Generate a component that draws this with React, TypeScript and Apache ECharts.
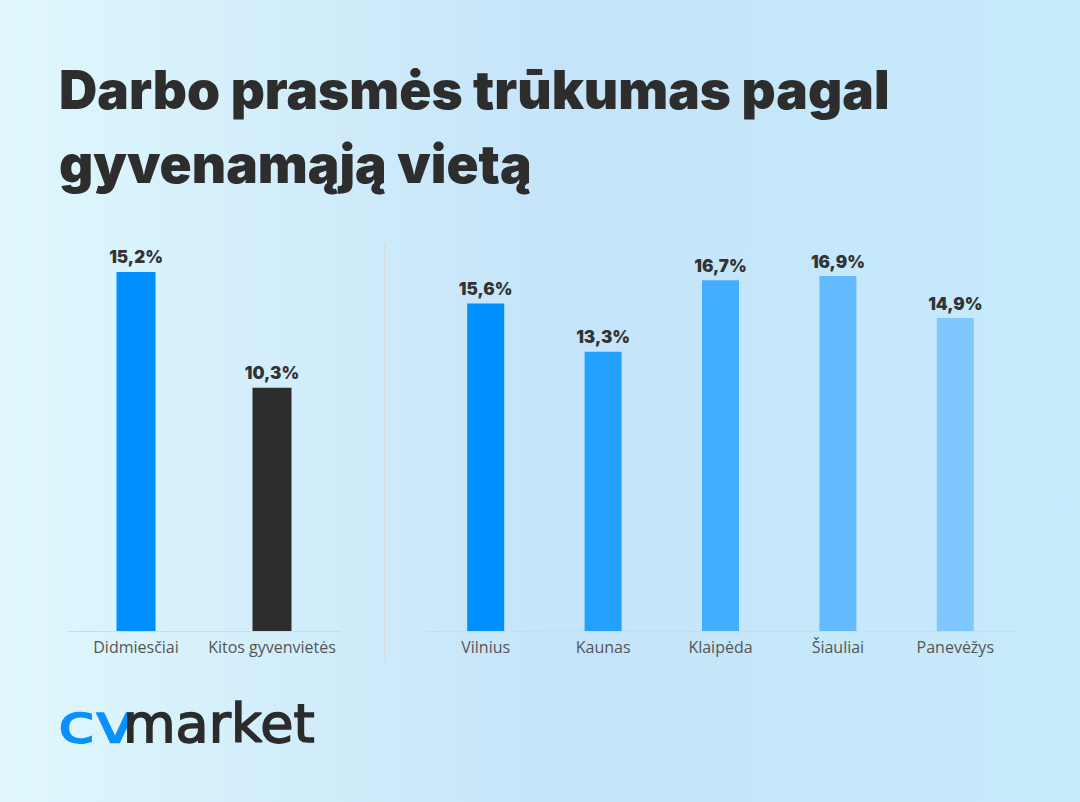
import React, { useEffect, useRef } from "react";
import * as echarts from "echarts";

const titleLines = ["Darbo prasmės trūkumas pagal", "gyvenamąją vietą"];

const typeCategories = ["Didmiesčiai", "Kitos gyvenvietės"];
const typeValues = [15.2, 10.3];
const typeColors = ["#008ffe", "#2d2d2d"];

const cityCategories = ["Vilnius", "Kaunas", "Klaipėda", "Šiauliai", "Panevėžys"];
const cityValues = [15.6, 13.3, 16.7, 16.9, 14.9];
const cityColors = ["#008ffe", "#24a0ff", "#43adff", "#62baff", "#80c6ff"];

const fmt = (v: number) => v.toFixed(1).replace(".", ",") + "%";

export default function App() {
  const ref = useRef<HTMLDivElement>(null);
  useEffect(() => {
    if (!ref.current) return;
    const chart = echarts.init(ref.current, null, { renderer: "svg" });
    const labelStyle = {
      show: true,
      position: "top" as const,
      distance: 6,
      color: "#333333",
      fontFamily: "Inter",
      fontWeight: 900 as any,
      fontSize: 17,
      formatter: (p: any) => fmt(p.value),
    };
    const catAxis = (gridIndex: number, data: string[]) => ({
      type: "category" as const,
      gridIndex,
      data,
      axisLine: { show: true, lineStyle: { color: "#d3dadf", width: 1 } },
      axisTick: { show: false },
      axisLabel: {
        interval: 0,
        color: "#555555",
        fontFamily: "Open Sans",
        fontSize: 16,
        margin: 8,
      },
    });
    const valAxis = (gridIndex: number, max: number) => ({
      type: "value" as const,
      gridIndex,
      min: 0,
      max,
      show: false,
      splitLine: { show: false },
    });
    chart.setOption({
      animation: false,
      backgroundColor: {
        type: "linear",
        x: 0,
        y: 0,
        x2: 1,
        y2: 0,
        colorStops: [
          { offset: 0, color: "#e0f8fd" },
          { offset: 0.52, color: "#c5e4f9" },
          { offset: 1, color: "#c6ebfb" },
        ],
      },
      grid: [
        { left: 68, right: 1080 - 340, top: 253, bottom: 171 },
        { left: 427, right: 66, top: 253, bottom: 171 },
      ],
      xAxis: [catAxis(0, typeCategories), catAxis(1, cityCategories)],
      yAxis: [valAxis(0, 16), valAxis(1, 18)],
      series: [
        {
          type: "bar",
          xAxisIndex: 0,
          yAxisIndex: 0,
          barWidth: 39,
          data: typeValues.map((v, i) => ({ value: v, itemStyle: { color: typeColors[i] } })),
          label: labelStyle,
        },
        {
          type: "bar",
          xAxisIndex: 1,
          yAxisIndex: 1,
          barWidth: 37,
          data: cityValues.map((v, i) => ({ value: v, itemStyle: { color: cityColors[i] } })),
          label: labelStyle,
        },
      ],
      graphic: [
        {
          type: "text",
          left: 59,
          top: 63,
          style: {
            text: titleLines[0],
            fill: "#2d2d2d",
            font: "900 53px Inter",
          },
        },
        {
          type: "text",
          left: 59,
          top: 137,
          style: {
            text: titleLines[1],
            fill: "#2d2d2d",
            font: "900 53px Inter",
          },
        },
        {
          type: "line",
          shape: { x1: 384.5, y1: 243, x2: 384.5, y2: 663 },
          style: { stroke: "#d6dde1", lineWidth: 1.5 },
        },
        {
          type: "text",
          x: 58,
          y: 696,
          scaleX: 1.25,
          style: {
            text: "cv",
            fill: "#0a90fb",
            stroke: "#0a90fb",
            lineWidth: 1.6,
            font: "54px 'DejaVu Sans'",
          },
        },
        {
          type: "text",
          x: 123,
          y: 696,
          style: {
            text: "market",
            fill: "#2b2b2b",
            stroke: "#2b2b2b",
            lineWidth: 1.6,
            font: "54px 'DejaVu Sans'",
          },
        },
      ],
    });
    return () => chart.dispose();
  }, []);
  return (
    <div
      ref={ref}
      style={{ position: "fixed", left: 0, top: 0, width: 1080, height: 802 }}
    />
  );
}
